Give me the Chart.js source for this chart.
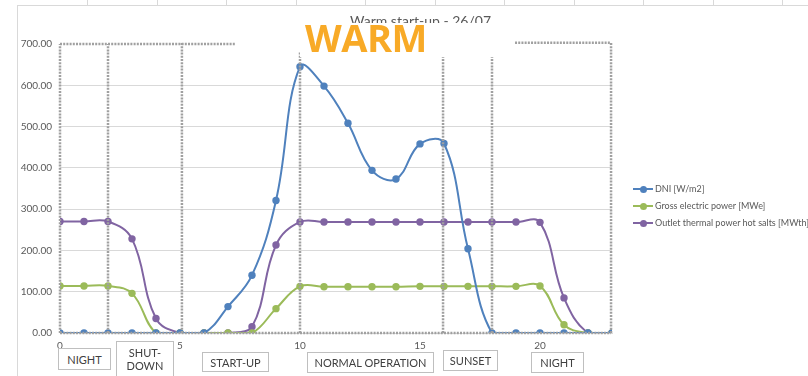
<!DOCTYPE html>
<html>
<head>
<meta charset="utf-8">
<script src="https://cdn.jsdelivr.net/npm/chart.js@4.4.1/dist/chart.umd.min.js"></script>
<style>
  html, body { margin: 0; padding: 0; background: #fff; }
  #wrap { position: relative; width: 808px; height: 376px; overflow: hidden; font-family: Lato, "Open Sans", sans-serif; }
  #chart { position: absolute; left: 0; top: 0; }
  .frame { position: absolute; left: 17px; top: 5px; right: -2px; bottom: -2px; border-left: 1px solid #d9d9d9; border-top: 1px solid #d9d9d9; }
  .col { position: absolute; top: 0; width: 1px; height: 5px; background: #d9d9d9; }
  .title { position: absolute; left: 350px; top: 14px; font-size: 14px; line-height: 14px; color: #595959; white-space: nowrap; }
  .warm { position: absolute; left: 300px; top: 23px; width: 196px; height: 34px; background: #fff; }
  .warm span { position: absolute; left: 5px; top: -5px; font-family: "Open Sans", sans-serif; font-weight: 700; font-size: 38px; line-height: 38px; color: #f8aa27; letter-spacing: -0.5px; }
  .phase { position: absolute; box-sizing: border-box; border: 1px solid #bfbfbf; background: #fff; color: #404040; font-size: 11px; text-align: center; display: flex; align-items: center; justify-content: center; line-height: 13px; }
  .legend { position: absolute; left: 633px; top: 182px; font-size: 9px; color: #595959; white-space: nowrap; }
  .legend .item { position: relative; height: 17px; line-height: 14px; padding-left: 22px; }
  .legend .ln { position: absolute; left: 0; top: 6px; width: 20px; height: 2px; }
  .legend .dt { position: absolute; left: 7px; top: 3.5px; width: 7px; height: 7px; border-radius: 50%; }
</style>
</head>
<body>
<div id="wrap">
  <div class="frame"></div>
  <canvas id="chart" width="808" height="376"></canvas>
  <div class="title">Warm start-up - 26/07</div>
  <div class="warm"><span>WARM</span></div>
  <div id="phases"></div>
  <div class="legend" id="legend"></div>
</div>
<script>
// Hour of the day (x values)
const hours = [0, 1, 2, 3, 4, 5, 6, 7, 8, 9, 10, 11, 12, 13, 14, 15, 16, 17, 18, 19, 20, 21, 22, 23];

// Direct normal irradiance [W/m2]
const dni = [0, 0, 0, 0, 0, 0, 0, 64, 140, 321, 645, 598, 508, 394, 373, 458, 459, 204, 0, 0, 0, 0, 0, 0];

// Gross electric power [MWe]
const grossElectric = [114, 114, 114, 96, 0, 0, 0, 0, 0, 59, 113, 112, 112, 112, 112, 113, 113, 113, 113, 113, 114, 20, 0, 0];

// Outlet thermal power hot salts [MWth]
const outletThermal = [270, 270, 270, 228, 35, 0, 0, 0, 15, 213, 269, 269, 269, 269, 269, 269, 269, 269, 269, 269, 268, 85, 0, 0];

const seriesNames = ['DNI [W/m2]', 'Gross electric power [MWe]', 'Outlet thermal power hot salts [MWth]'];
const yTicks = [0, 100, 200, 300, 400, 500, 600, 700];
const xTicks = [0, 5, 10, 15, 20];

// Operating phases: boundaries (hours) and the labels shown under the axis
const phaseBounds = [0, 2, 5.08, 10, 15.96, 18, 22.96];
const phaseBoundTops = [700, 700, 703, 680, 680, 680, 703];
const phaseNames = ['NIGHT', 'SHUT-\nDOWN', 'START-UP', 'NORMAL OPERATION', 'SUNSET', 'NIGHT'];

const colors = ['#4f81bd', '#9bbb59', '#8064a2'];

function pts(values) {
  return hours.map((h, i) => ({ x: h, y: values[i] }));
}

// Dotted phase frames drawn over the plot
const phaseFrames = {
  id: 'phaseFrames',
  afterDatasetsDraw(chart) {
    const { ctx, scales: { x, y } } = chart;
    ctx.save();
    ctx.strokeStyle = '#a0a0a0';
    ctx.lineWidth = 2.5;
    ctx.setLineDash([2, 1.2]);
    const seg = (x0, y0, x1, y1) => {
      ctx.beginPath();
      ctx.moveTo(x.getPixelForValue(x0), y.getPixelForValue(y0));
      ctx.lineTo(x.getPixelForValue(x1), y.getPixelForValue(y1));
      ctx.stroke();
    };
    phaseBounds.forEach((b, i) => seg(b, 0, b, phaseBoundTops[i]));
    seg(phaseBounds[0], 0, phaseBounds[phaseBounds.length - 1], 0);
    seg(phaseBounds[0], 700, 7.3, 700);
    seg(18.96, 703, phaseBounds[phaseBounds.length - 1], 703);
    ctx.restore();
  }
};

const chart = new Chart(document.getElementById('chart'), {
  type: 'line',
  data: {
    datasets: [dni, grossElectric, outletThermal].map((v, i) => ({
      label: seriesNames[i],
      data: pts(v),
      borderColor: colors[i],
      backgroundColor: colors[i],
      borderWidth: 2,
      pointRadius: 3.7,
      pointHoverRadius: 3.7,
      pointBorderWidth: 0,
      tension: 0.4
    }))
  },
  options: {
    responsive: false,
    devicePixelRatio: 1,
    animation: false,
    events: [],
    layout: { padding: { left: 0, top: 44, right: 196, bottom: 23 } },
    plugins: { legend: { display: false }, tooltip: { enabled: false }, title: { display: false } },
    scales: {
      x: {
        type: 'linear',
        min: 0,
        max: 23,
        afterBuildTicks(s) { s.ticks = xTicks.map(v => ({ value: v })); },
        afterFit(s) { s.height = 20; },
        grid: { display: false, drawTicks: false },
        border: { display: true, color: '#d9d9d9' },
        ticks: { padding: 7, color: '#595959', font: { family: 'Lato', size: 10 }, maxRotation: 0, callback: v => String(v) }
      },
      y: {
        min: 0,
        max: 700,
        afterBuildTicks(s) { s.ticks = yTicks.map(v => ({ value: v })); },
        afterFit(s) { s.width = 60; },
        grid: { color: c => (c.tick && c.tick.value === 700 ? 'rgba(0,0,0,0)' : '#d9d9d9'), drawTicks: false },
        border: { display: false },
        ticks: { padding: 8, color: '#595959', font: { family: 'Lato', size: 10 }, callback: v => Number(v).toFixed(2) }
      }
    }
  },
  plugins: [phaseFrames]
});

// Spreadsheet column boundaries above the chart
const wrap = document.getElementById('wrap');
for (let cx = 87; cx < 808; cx += 69.5) {
  const d = document.createElement('div');
  d.className = 'col';
  d.style.left = Math.round(cx) + 'px';
  wrap.appendChild(d);
}

// Phase label boxes
const phaseBoxes = [
  [58, 348, 53, 22], [116, 341, 58, 40], [202, 352, 67, 20],
  [307, 352, 127, 21], [443, 350, 55, 21], [531, 352, 53, 21]
];
const phasesEl = document.getElementById('phases');
phaseNames.forEach((name, i) => {
  const [l, t, w, h] = phaseBoxes[i];
  const d = document.createElement('div');
  d.className = 'phase';
  d.style.cssText = `left:${l}px;top:${t}px;width:${w}px;height:${h}px;` + (i === 1 ? 'align-items:flex-start;padding-top:4px;' : '');
  d.innerHTML = name.split('\n').join('<br>');
  phasesEl.appendChild(d);
});

// Legend
const legendEl = document.getElementById('legend');
seriesNames.forEach((name, i) => {
  const it = document.createElement('div');
  it.className = 'item';
  it.innerHTML = `<span class="ln" style="background:${colors[i]}"></span><span class="dt" style="background:${colors[i]}"></span>${name}`;
  legendEl.appendChild(it);
});
</script>
</body>
</html>
